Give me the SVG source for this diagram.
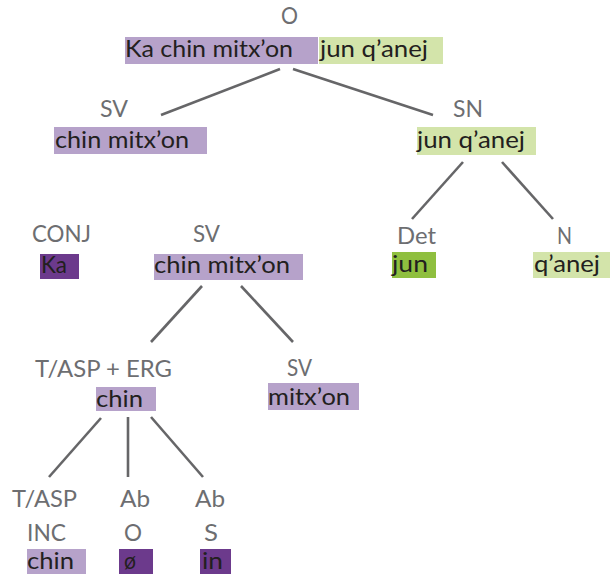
<svg xmlns="http://www.w3.org/2000/svg" width="610" height="579" viewBox="0 0 610 579">
<style>
text{font-family:Lato,"Open Sans","DejaVu Sans",sans-serif;font-size:23px}
.lab{fill:#6d6e71}
.w{fill:#231f20}
.lp{fill:#b6a2ca}
.dp{fill:#6c3a8c}
.lg{fill:#d3e4aa}
.dg{fill:#8fbf3f}
.edge{stroke:#666668;stroke-width:2.6;fill:none;stroke-linecap:butt}
</style>
<rect width="610" height="579" fill="#ffffff"/>
<g id="connectors">
<line class="edge" x1="280" y1="69" x2="161" y2="115"/>
<line class="edge" x1="293" y1="69" x2="433" y2="115"/>
<line class="edge" x1="463" y1="162" x2="412" y2="219"/>
<line class="edge" x1="502" y1="162" x2="553" y2="219"/>
<line class="edge" x1="202" y1="286" x2="151" y2="342"/>
<line class="edge" x1="241" y1="286" x2="293" y2="342"/>
<line class="edge" x1="101" y1="418" x2="49" y2="477"/>
<line class="edge" x1="128" y1="417" x2="128" y2="477"/>
<line class="edge" x1="151" y1="417" x2="203" y2="477"/>
</g>
<g id="node-O">
<text class="lab" x="281" y="24" textLength="17" lengthAdjust="spacingAndGlyphs">O</text>
<rect class="lp" x="125" y="37" width="193" height="27"/>
<rect class="lg" x="319" y="37" width="124" height="27"/>
<text class="w" x="125" y="57" textLength="168" lengthAdjust="spacingAndGlyphs">Ka chin mitx’on</text>
<text class="w" x="320" y="57" textLength="108" lengthAdjust="spacingAndGlyphs">jun q’anej</text>
</g>
<g id="node-SV1">
<text class="lab" x="100" y="117" textLength="28" lengthAdjust="spacingAndGlyphs">SV</text>
<rect class="lp" x="54" y="127" width="153" height="27"/>
<text class="w" x="55" y="148" textLength="134" lengthAdjust="spacingAndGlyphs">chin mitx’on</text>
</g>
<g id="node-SN">
<text class="lab" x="453" y="117" textLength="30" lengthAdjust="spacingAndGlyphs">SN</text>
<rect class="lg" x="417" y="127" width="119" height="28"/>
<text class="w" x="417" y="148" textLength="108" lengthAdjust="spacingAndGlyphs">jun q’anej</text>
</g>
<g id="node-Det">
<text class="lab" x="397" y="244" textLength="39" lengthAdjust="spacingAndGlyphs">Det</text>
<rect class="dg" x="392" y="252" width="44" height="26"/>
<text class="w" x="392" y="272" textLength="36" lengthAdjust="spacingAndGlyphs">jun</text>
</g>
<g id="node-N">
<text class="lab" x="557" y="244" textLength="15" lengthAdjust="spacingAndGlyphs">N</text>
<rect class="lg" x="533" y="252" width="77" height="26"/>
<text class="w" x="534" y="272" textLength="66" lengthAdjust="spacingAndGlyphs">q’anej</text>
</g>
<g id="node-CONJ">
<text class="lab" x="32" y="242" textLength="59" lengthAdjust="spacingAndGlyphs">CONJ</text>
<rect class="dp" x="40" y="254" width="39" height="25"/>
<text class="w" x="41" y="273" textLength="26" lengthAdjust="spacingAndGlyphs">Ka</text>
</g>
<g id="node-SV2">
<text class="lab" x="193" y="242" textLength="27" lengthAdjust="spacingAndGlyphs">SV</text>
<rect class="lp" x="154" y="254" width="149" height="26"/>
<text class="w" x="154" y="273" textLength="136" lengthAdjust="spacingAndGlyphs">chin mitx’on</text>
</g>
<g id="node-TASPERG">
<text class="lab" x="35" y="377" textLength="137" lengthAdjust="spacingAndGlyphs">T/ASP + ERG</text>
<rect class="lp" x="96" y="387" width="60" height="24"/>
<text class="w" x="96" y="407" textLength="47" lengthAdjust="spacingAndGlyphs">chin</text>
</g>
<g id="node-SV3">
<text class="lab" x="287" y="376" textLength="25" lengthAdjust="spacingAndGlyphs">SV</text>
<rect class="lp" x="268" y="383" width="91" height="27"/>
<text class="w" x="268" y="405" textLength="82" lengthAdjust="spacingAndGlyphs">mitx’on</text>
</g>
<g id="node-TASP">
<text class="lab" x="12" y="507" textLength="65" lengthAdjust="spacingAndGlyphs">T/ASP</text>
<text class="lab" x="27" y="541" textLength="39" lengthAdjust="spacingAndGlyphs">INC</text>
<rect class="lp" x="27" y="549" width="59" height="25"/>
<text class="w" x="27" y="569" textLength="47" lengthAdjust="spacingAndGlyphs">chin</text>
</g>
<g id="node-AbO">
<text class="lab" x="120" y="507" textLength="30" lengthAdjust="spacingAndGlyphs">Ab</text>
<text class="lab" x="124" y="541" textLength="18" lengthAdjust="spacingAndGlyphs">O</text>
<rect class="dp" x="119" y="549" width="34" height="25"/>
<text class="w" x="124" y="569" textLength="12" lengthAdjust="spacingAndGlyphs">ø</text>
</g>
<g id="node-AbS">
<text class="lab" x="195" y="507" textLength="30" lengthAdjust="spacingAndGlyphs">Ab</text>
<text class="lab" x="204" y="541" textLength="14" lengthAdjust="spacingAndGlyphs">S</text>
<rect class="dp" x="200" y="549" width="31" height="25"/>
<text class="w" x="202" y="569" textLength="21" lengthAdjust="spacingAndGlyphs">in</text>
</g>
</svg>
